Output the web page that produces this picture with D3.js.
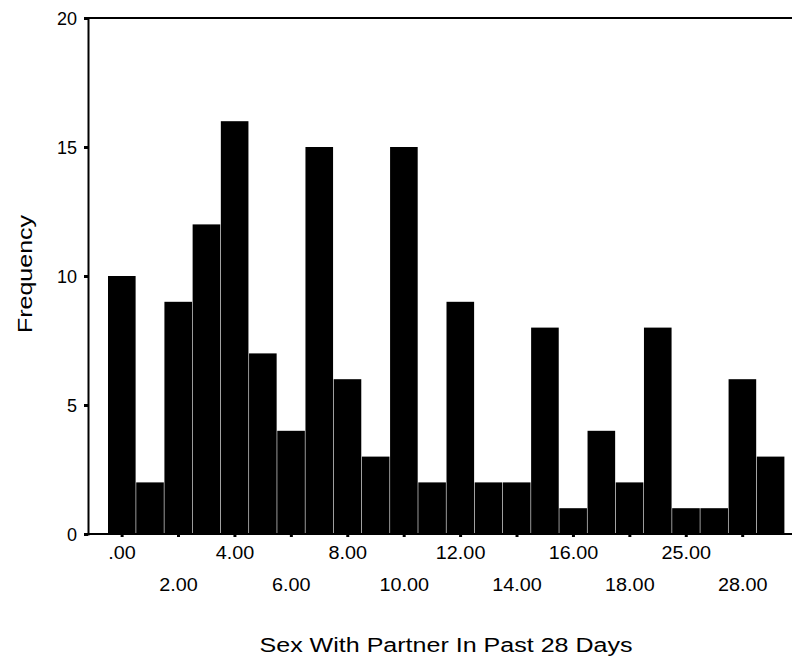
<!DOCTYPE html>
<html>
<head>
<meta charset="utf-8">
<script src="https://cdn.jsdelivr.net/npm/d3@7"></script>
<style>
  body { margin: 0; background: #fff; }
  text { font-family: "Liberation Sans", Arial, sans-serif; fill: #000; }
</style>
</head>
<body>
<svg id="chart" width="792" height="661"></svg>
<script>
const categories = [".00","1.00","2.00","3.00","4.00","5.00","6.00","7.00","8.00","9.00","10.00","11.00",
  "12.00","13.00","14.00","15.00","16.00","17.00","18.00","20.00","25.00","27.00","28.00","30.00"];
const frequencies = [10,2,9,12,16,7,4,15,6,3,15,2,9,2,2,8,1,4,2,8,1,1,6,3];
const labeledCategories = [".00","2.00","4.00","6.00","8.00","10.00","12.00","14.00","16.00","18.00","25.00","28.00"];
const yTicks = [0,5,10,15,20];
const xTitle = "Sex With Partner In Past 28 Days";
const yTitle = "Frequency";

const svg = d3.select("#chart");
const mLeft = 88, mRight = 792, mTop = 18, mBottom = 534;

const x = d3.scaleBand().domain(categories).range([108, 785]).padding(0);
const y = d3.scaleLinear().domain([0, 20]).range([mBottom, mTop]);

// bars
svg.append("g").selectAll("rect").data(categories).join("rect")
  .attr("x", d => x(d))
  .attr("width", x.bandwidth() - 0.6)
  .attr("y", (d, i) => y(frequencies[i]))
  .attr("height", (d, i) => y(0) - y(frequencies[i]))
  .attr("fill", "#000");

// frame lines
svg.append("line").attr("x1", mLeft).attr("x2", mRight).attr("y1", mTop).attr("y2", mTop)
  .attr("stroke", "#000").attr("stroke-width", 2);
svg.append("line").attr("x1", mLeft).attr("x2", mRight).attr("y1", mBottom).attr("y2", mBottom)
  .attr("stroke", "#000").attr("stroke-width", 2);

// y axis
const yAxis = svg.append("g").attr("transform", `translate(${mLeft},0)`)
  .call(d3.axisLeft(y).tickValues(yTicks).tickSize(4).tickPadding(7).tickFormat(d3.format("d")));
yAxis.select(".domain").attr("stroke-width", 2);
yAxis.selectAll(".tick line").attr("stroke-width", 3);
yAxis.selectAll("text").attr("font-size", 18).style("font-family", "Liberation Sans, Arial, sans-serif")
  .attr("dy", "0.35em");

// x axis
const xAxis = svg.append("g").attr("transform", `translate(0,${mBottom})`)
  .call(d3.axisBottom(x).tickValues(labeledCategories).tickSize(3).tickPadding(8));
xAxis.select(".domain").remove();
xAxis.selectAll(".tick line").attr("stroke-width", 3);
xAxis.selectAll("text").attr("font-size", 18).style("font-family", "Liberation Sans, Arial, sans-serif")
  .attr("y", (d, i) => i % 2 === 0 ? 19 : 51)
  .attr("dy", "0.35em")
  .each(function() {
    const w = this.getComputedTextLength();
    d3.select(this).attr("textLength", w * 1.1).attr("lengthAdjust", "spacingAndGlyphs");
  });

// titles
svg.append("text").attr("x", 446).attr("y", 652).attr("text-anchor", "middle")
  .attr("font-size", 20).attr("textLength", 373).attr("lengthAdjust", "spacingAndGlyphs").text(xTitle);
svg.append("text").attr("transform", "translate(32,274) rotate(-90)").attr("text-anchor", "middle")
  .attr("font-size", 20).attr("textLength", 118).attr("lengthAdjust", "spacingAndGlyphs").text(yTitle);
</script>
</body>
</html>
